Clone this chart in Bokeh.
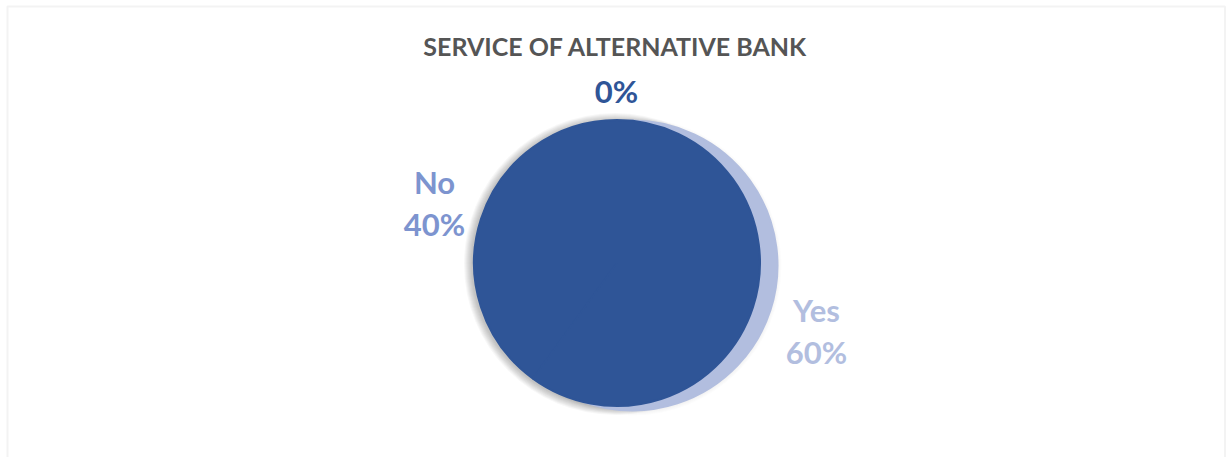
import numpy as np
from bokeh.plotting import figure
from bokeh.models import Range1d, BoxAnnotation, ColumnDataSource
from bokeh.core.properties import value
from bokeh.embed import file_html
from bokeh.resources import INLINE

# ---- data ----
title = "SERVICE OF ALTERNATIVE BANK"
categories = ["", "No", "Yes"]
values = [0, 40, 60]
label_colors = ["#2F5597", "#7D94CF", "#B2BEDF"]

# ---- layout / style ----
W, H = 1226, 457
FONT = "Lato"
dark = "#2F5597"
light = "#B2BEDF"
front_center = (616.5, 262.5)
back_center = (632.0, 265.0)
front_r = 143.0
back_r = 145.0
label_pos = {"": (616, 90), "No": (434, 202), "Yes": (816, 330)}
line_gap = 42

p = figure(width=W, height=H, output_backend="svg", toolbar_location=None,
           x_range=Range1d(0, W), y_range=Range1d(H, 0), min_border=0)
p.axis.visible = False
p.grid.visible = False
p.outline_line_color = None
p.background_fill_color = "white"
p.border_fill_color = "white"

p.add_layout(BoxAnnotation(left=7, right=1224.5, top=6, bottom=H + 20,
                           fill_color=None, line_color="#D6D6D6", line_width=2))

vals = np.array(values, dtype=float)
frac = vals / vals.sum()
ends = np.cumsum(frac) * 2 * np.pi + np.pi / 2
starts = ends - frac * 2 * np.pi
mask = frac > 0
n = int(mask.sum())
src_back = ColumnDataSource(dict(s=starts[mask], e=ends[mask],
                                 x=[back_center[0]] * n, y=[back_center[1]] * n))
src_front = ColumnDataSource(dict(s=starts[mask], e=ends[mask],
                                  x=[front_center[0]] * n, y=[front_center[1]] * n))

# soft shadows
for k in range(1, 5):
    p.circle(x=back_center[0], y=back_center[1] + 1, radius=back_r + k,
             fill_color="black", fill_alpha=0.012, line_color=None)
for k in range(1, 9):
    p.circle(x=front_center[0] - 2, y=front_center[1] + 1, radius=front_r + k,
             fill_color="black", fill_alpha=0.03, line_color=None)

p.wedge(x="x", y="y", radius=back_r, start_angle="s", end_angle="e", source=src_back,
        fill_color=light, line_color=light, line_width=2)
p.wedge(x="x", y="y", radius=front_r, start_angle="s", end_angle="e", source=src_front,
        fill_color=dark, line_color=dark, line_width=2)

# title
p.text(x=[615], y=[45], text=[title], text_font=value(FONT), text_font_style="bold",
       text_font_size="25px", text_color="#555555", text_align="center", text_baseline="middle")

# data labels
for cat, v, c in zip(categories, values, label_colors):
    lx, ly = label_pos[cat]
    pct = f"{v:.0f}%"
    if cat:
        p.text(x=[lx], y=[ly - line_gap / 2], text=[cat], text_font=value(FONT),
               text_font_style="bold", text_font_size="31px", text_color=c,
               text_align="center", text_baseline="middle")
        p.text(x=[lx], y=[ly + line_gap / 2], text=[pct], text_font=value(FONT),
               text_font_style="bold", text_font_size="31px", text_color=c,
               text_align="center", text_baseline="middle")
    else:
        p.text(x=[lx], y=[ly], text=[pct], text_font=value(FONT),
               text_font_style="bold", text_font_size="31px", text_color=c,
               text_align="center", text_baseline="middle")

open("out.html", "w").write(file_html(p, INLINE))
